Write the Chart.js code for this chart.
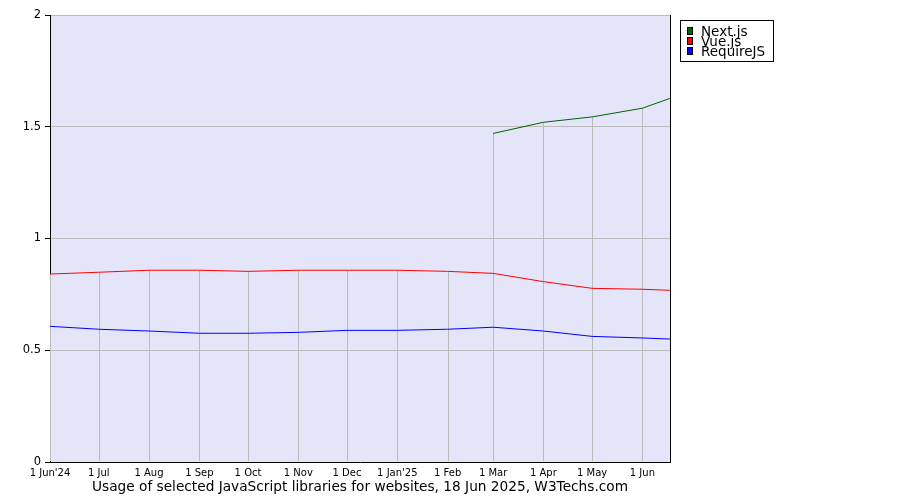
<!DOCTYPE html>
<html><head><meta charset="utf-8">
<script src="https://cdn.jsdelivr.net/npm/chart.js@4/dist/chart.umd.min.js"></script>
<style>html,body{margin:0;padding:0;background:#fff}#wrap{width:900px;height:500px}</style>
</head><body><div id="wrap"><canvas id="c" width="900" height="500"></canvas></div>
<script>
// ---- data ----
const pointDates = ['2024-06-01','2024-07-01','2024-08-01','2024-09-01','2024-10-01','2024-11-01','2024-12-01','2025-01-01','2025-02-01','2025-03-01','2025-04-01','2025-05-01','2025-06-01','2025-06-18'];
const nextjs    = [null, null, null, null, null, null, null, null, null, 1.470, 1.520, 1.544, 1.583, 1.627];
const vuejs     = [0.841, 0.849, 0.858, 0.858, 0.853, 0.858, 0.858, 0.858, 0.853, 0.844, 0.807, 0.777, 0.773, 0.768];
const requirejs = [0.607, 0.594, 0.586, 0.576, 0.576, 0.580, 0.589, 0.589, 0.594, 0.603, 0.586, 0.562, 0.555, 0.550];
const tickDates  = ['2024-06-01','2024-07-01','2024-08-01','2024-09-01','2024-10-01','2024-11-01','2024-12-01','2025-01-01','2025-02-01','2025-03-01','2025-04-01','2025-05-01','2025-06-01'];
const tickLabels = ["1 Jun'24",'1 Jul','1 Aug','1 Sep','1 Oct','1 Nov','1 Dec',"1 Jan'25",'1 Feb','1 Mar','1 Apr','1 May','1 Jun'];
const yTicks = [0, 0.5, 1, 1.5, 2];
const seriesNames  = ['Next.js', 'Vue.js', 'RequireJS'];
const seriesColors = ['#006400', '#ff0000', '#0000ff'];
const titleText = 'Usage of selected JavaScript libraries for websites, 18 Jun 2025, W3Techs.com';

// ---- helpers ----
const DAY = 86400000;
const origin = Date.parse(pointDates[0] + 'T00:00:00Z');
const toDay = s => Math.round((Date.parse(s + 'T00:00:00Z') - origin) / DAY);
const seriesValues = [nextjs, vuejs, requirejs];

const datasets = seriesNames.map((name, k) => ({
  label: name,
  data: pointDates.map((d, i) => ({ x: toDay(d), y: seriesValues[k][i] })),
  borderColor: seriesColors[k],
  backgroundColor: seriesColors[k],
  borderWidth: 1,
  pointRadius: 0,
  tension: 0,
  fill: false,
  spanGaps: false
}));

const FONT = 'DejaVu Sans';

const bgPlugin = {
  id: 'bg',
  beforeDraw(chart) {
    const { ctx, chartArea: a } = chart;
    ctx.save();
    ctx.fillStyle = '#e5e5f9';
    ctx.fillRect(a.left, a.top, a.right - a.left, a.bottom - a.top);
    ctx.restore();
  }
};

const dropLines = {
  id: 'dropLines',
  beforeDatasetsDraw(chart) {
    const { ctx, scales: { x, y } } = chart;
    ctx.save();
    ctx.strokeStyle = '#bbbbbb';
    ctx.lineWidth = 1;
    tickDates.forEach(d => {
      const day = toDay(d);
      let top = null;
      chart.data.datasets.forEach(ds => ds.data.forEach(p => {
        if (p.x === day && p.y != null) top = top == null ? p.y : Math.max(top, p.y);
      }));
      if (top == null) return;
      const px = Math.round(x.getPixelForValue(day)) + 0.5;
      ctx.beginPath();
      ctx.moveTo(px, y.getPixelForValue(0) - 1);
      ctx.lineTo(px, y.getPixelForValue(top));
      ctx.stroke();
    });
    ctx.restore();
  }
};

const frame = {
  id: 'frame',
  afterDatasetsDraw(chart) {
    const { ctx, chartArea: a } = chart;
    ctx.save();
    ctx.strokeStyle = '#000';
    ctx.lineWidth = 1;
    ctx.beginPath();
    ctx.moveTo(Math.round(a.right) + 0.5, a.top);
    ctx.lineTo(Math.round(a.right) + 0.5, a.bottom);
    ctx.stroke();
    ctx.restore();
  }
};

const boxLegend = {
  id: 'boxLegend',
  afterDraw(chart) {
    const { ctx, chartArea: a } = chart;
    const bx = a.right + 10, by = 20, bw = 93, bh = 41;
    ctx.save();
    ctx.fillStyle = '#fff';
    ctx.fillRect(bx, by, bw, bh);
    ctx.strokeStyle = '#000';
    ctx.lineWidth = 1;
    ctx.strokeRect(bx + 0.5, by + 0.5, bw, bh);
    ctx.font = '13.5px "' + FONT + '"';
    ctx.textBaseline = 'alphabetic';
    ctx.textAlign = 'left';
    chart.data.datasets.forEach((ds, i) => {
      const top = 27 + i * 10;
      ctx.fillStyle = ds.borderColor;
      ctx.fillRect(bx + 7, top, 6, 8);
      ctx.strokeStyle = '#000';
      ctx.strokeRect(bx + 7.5, top + 0.5, 5, 7);
      ctx.fillStyle = '#000';
      ctx.fillText(ds.label, bx + 21, top + 8.5);
    });
    ctx.restore();
  }
};

new Chart(document.getElementById('c'), {
  type: 'line',
  data: { datasets },
  options: {
    responsive: false,
    animation: false,
    events: [],
    devicePixelRatio: 1,
    layout: { padding: { top: 15, right: 230, left: 0, bottom: 0 } },
    plugins: {
      legend: { display: false },
      tooltip: { enabled: false },
      title: {
        display: true,
        position: 'bottom',
        text: titleText,
        fullSize: false,
        color: '#000',
        font: { family: FONT, size: 13.7, weight: 'normal', lineHeight: 1 },
        padding: { top: 3, bottom: 5.3 }
      }
    },
    scales: {
      x: {
        type: 'linear',
        min: 0,
        max: toDay(pointDates[pointDates.length - 1]),
        afterBuildTicks: s => { s.ticks = tickDates.map(d => ({ value: toDay(d) })); },
        afterFit: s => { s.height = 16; },
        ticks: {
          autoSkip: false, maxRotation: 0, minRotation: 0,
          padding: 5,
          color: '#000',
          font: { family: FONT, size: 10 },
          callback: (v, i) => tickLabels[i]
        },
        grid: { display: false, drawTicks: false },
        border: { display: true, color: '#000', width: 1 }
      },
      y: {
        min: 0,
        max: 2,
        afterBuildTicks: s => { s.ticks = yTicks.map(v => ({ value: v })); },
        afterFit: s => { s.width = 50; },
        ticks: {
          padding: 4,
          color: '#000',
          font: { family: FONT, size: 11.5 },
          callback: v => String(v)
        },
        grid: { color: '#bbbbbb', lineWidth: 1, drawTicks: true, tickLength: 5, tickColor: '#000' },
        border: { display: true, color: '#000', width: 1 }
      }
    }
  },
  plugins: [bgPlugin, dropLines, frame, boxLegend]
});
</script>
</body></html>
